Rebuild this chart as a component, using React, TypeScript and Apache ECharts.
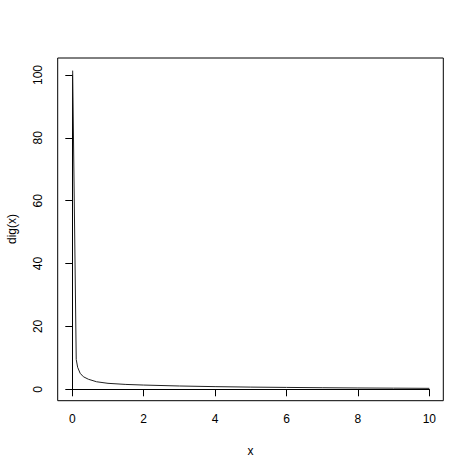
import { useEffect, useRef } from "react";
import * as echarts from "echarts";

// values
const X_VALUES = [0.01, 0.11, 0.15, 0.22, 0.31, 0.45, 0.68, 1.0, 1.5, 2.0, 3.0, 4.0, 5.0, 6.0, 7.0, 8.0, 9.0, 10.0];
const Y_VALUES = [101.4, 9.5, 7.0, 5.1, 4.0, 3.2, 2.4, 1.9, 1.55, 1.35, 1.05, 0.85, 0.7, 0.6, 0.5, 0.42, 0.36, 0.3];

const X_TICKS = { min: 0, max: 10, interval: 2 };
const Y_TICKS = { min: 0, max: 100, interval: 20 };

const X_LABEL = "x";
const Y_LABEL = "dig(x)";

const FONT = "Liberation Sans, Arial, sans-serif";

export default function App() {
  const chartRef = useRef<HTMLDivElement>(null);

  useEffect(() => {
    if (!chartRef.current) return;
    const chart = echarts.init(chartRef.current, undefined, { renderer: "svg" });

    const points = X_VALUES.map((x, i) => [x, Y_VALUES[i]]);

    chart.setOption({
      animation: false,
      backgroundColor: "#fff",
      grid: [
        // plot box
        { left: 57.7, right: 30.7, top: 58, bottom: 73.3, show: true, borderColor: "#000", borderWidth: 1, backgroundColor: "transparent" },
        // data region
        { left: 72.3, right: 44.7, top: 75, bottom: 84.7 },
      ],
      xAxis: [
        { gridIndex: 0, type: "value", show: false, min: 0, max: 1 },
        {
          gridIndex: 1,
          type: "value",
          ...X_TICKS,
          offset: 11.4,
          splitLine: { show: false },
          axisLine: { show: true, lineStyle: { color: "#000", width: 1 } },
          axisTick: { show: true, length: 7, lineStyle: { color: "#000" } },
          axisLabel: { color: "#000", fontSize: 12, fontFamily: FONT, margin: 12 },
        },
      ],
      yAxis: [
        { gridIndex: 0, type: "value", show: false, min: 0, max: 1 },
        {
          gridIndex: 1,
          type: "value",
          ...Y_TICKS,
          offset: 14.6,
          splitLine: { show: false },
          axisLine: { show: true, lineStyle: { color: "#000", width: 1 } },
          axisTick: { show: true, length: 7, lineStyle: { color: "#000" } },
          axisLabel: { color: "#000", fontSize: 12, fontFamily: FONT, margin: 14, rotate: 90 },
        },
      ],
      graphic: [
        {
          type: "text",
          x: 250.5,
          y: 451,
          style: { text: X_LABEL, fill: "#000", font: `12px ${FONT}`, align: "center", verticalAlign: "middle" },
        },
        {
          type: "text",
          x: 12,
          y: 229,
          rotation: Math.PI / 2,
          style: { text: Y_LABEL, fill: "#000", font: `12px ${FONT}`, align: "center", verticalAlign: "middle" },
        },
      ],
      series: [
        {
          type: "line",
          xAxisIndex: 1,
          yAxisIndex: 1,
          data: points,
          showSymbol: false,
          clip: false,
          lineStyle: { color: "#222", width: 1 },
        },
      ],
    });

    return () => chart.dispose();
  }, []);

  return (
    <div
      ref={chartRef}
      style={{ position: "absolute", left: 0, top: 0, width: "474px", height: "474px" }}
    />
  );
}
